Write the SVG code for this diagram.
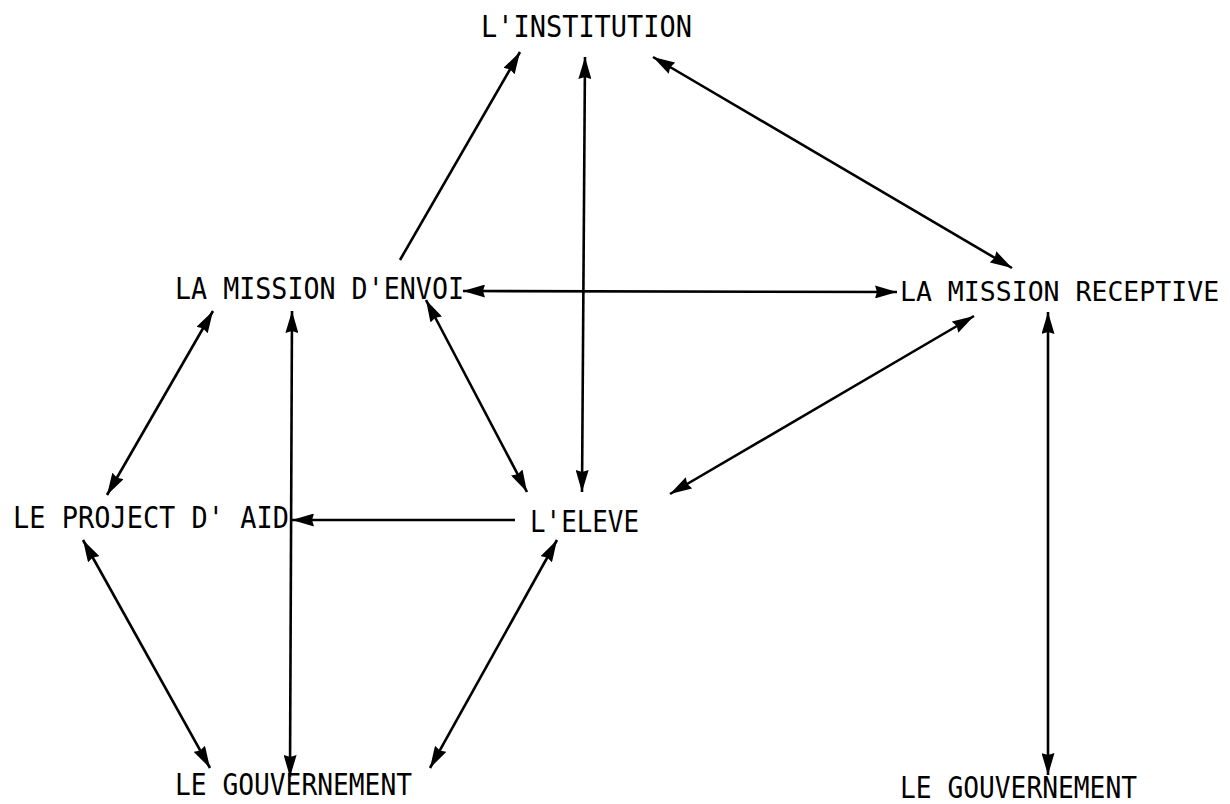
<svg xmlns="http://www.w3.org/2000/svg" width="1230" height="804" viewBox="0 0 1230 804">
<style>
text{font-family:"DejaVu Sans Mono","Liberation Mono",monospace;font-size:30px;fill:#000}
.c line{stroke:#000;stroke-width:2.6;fill:none}
</style>
<defs>
<marker id="ah" viewBox="0 0 22 13" refX="22" refY="6.5" markerWidth="22" markerHeight="13" markerUnits="userSpaceOnUse" orient="auto-start-reverse">
<path d="M0,0 L22,6.5 L0,13 L2,6.5 Z" fill="#000"/>
</marker>
</defs>
<rect width="1230" height="804" fill="#fff"/>
<g class="c" id="connectors">
<line x1="400" y1="260" x2="520" y2="52" marker-end="url(#ah)"/>
<line x1="582" y1="492" x2="585" y2="57" marker-start="url(#ah)" marker-end="url(#ah)"/>
<line x1="653" y1="57" x2="1012" y2="268" marker-start="url(#ah)" marker-end="url(#ah)"/>
<line x1="463" y1="291" x2="897" y2="292" marker-start="url(#ah)" marker-end="url(#ah)"/>
<line x1="213" y1="311" x2="107" y2="495" marker-start="url(#ah)" marker-end="url(#ah)"/>
<line x1="292" y1="311" x2="290" y2="777" marker-start="url(#ah)" marker-end="url(#ah)"/>
<line x1="426" y1="300" x2="527" y2="492" marker-start="url(#ah)" marker-end="url(#ah)"/>
<line x1="974" y1="316" x2="670" y2="494" marker-start="url(#ah)" marker-end="url(#ah)"/>
<line x1="515" y1="520" x2="292" y2="520" marker-end="url(#ah)"/>
<line x1="83" y1="540" x2="210" y2="768" marker-start="url(#ah)" marker-end="url(#ah)"/>
<line x1="557" y1="540" x2="430" y2="768" marker-start="url(#ah)" marker-end="url(#ah)"/>
<line x1="1048" y1="312" x2="1048" y2="775" marker-start="url(#ah)" marker-end="url(#ah)"/>
</g>
<g id="institution"><text x="481" y="37" textLength="211" lengthAdjust="spacingAndGlyphs">L'INSTITUTION</text></g>
<g id="mission-envoi"><text x="175" y="299" textLength="289" lengthAdjust="spacingAndGlyphs">LA MISSION D'ENVOI</text></g>
<g id="mission-receptive"><text x="900" y="301" style="font-size:26.5px">LA MISSION RECEPTIVE</text></g>
<g id="projet"><text x="13" y="528" textLength="276" lengthAdjust="spacingAndGlyphs">LE PROJECT D' AID</text></g>
<g id="eleve"><text x="530" y="532" textLength="109" lengthAdjust="spacingAndGlyphs">L'ELEVE</text></g>
<g id="gouvernement-1"><text x="175" y="795" textLength="237" lengthAdjust="spacingAndGlyphs">LE GOUVERNEMENT</text></g>
<g id="gouvernement-2"><text x="900" y="798" textLength="237" lengthAdjust="spacingAndGlyphs">LE GOUVERNEMENT</text></g>
</svg>
